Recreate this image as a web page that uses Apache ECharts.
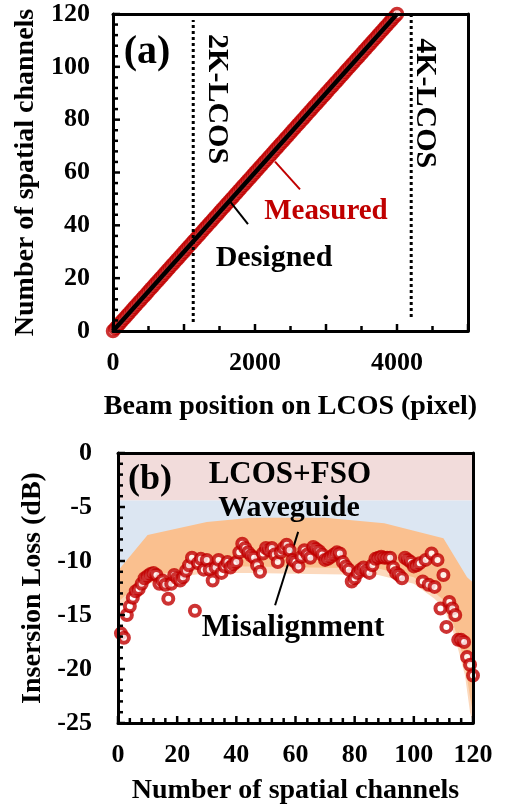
<!DOCTYPE html>
<html>
<head>
<meta charset="utf-8">
<script src="https://cdn.jsdelivr.net/npm/echarts/dist/echarts.min.js"></script>
<style>
html, body { margin: 0; padding: 0; background: #fff; }
#chart { width: 506px; height: 810px; }
</style>
</head>
<body>
<div id="chart"></div>
<script>
// ---------- panel (a): channel position on the LCOS ----------
// measured beam position (pixel) of spatial channels 0..120
const measuredBeamPos = [
  0, 33, 67, 100, 133, 167, 200, 233, 267, 300,
  333, 367, 400, 433, 467, 500, 533, 567, 600, 633,
  667, 700, 733, 767, 800, 833, 867, 900, 933, 967,
  1000, 1033, 1067, 1100, 1133, 1167, 1200, 1233, 1267, 1300,
  1333, 1367, 1400, 1433, 1467, 1500, 1533, 1567, 1600, 1633,
  1667, 1700, 1733, 1767, 1800, 1833, 1867, 1900, 1933, 1967,
  2000, 2033, 2067, 2100, 2133, 2167, 2200, 2233, 2267, 2300,
  2333, 2367, 2400, 2433, 2467, 2500, 2533, 2567, 2600, 2633,
  2667, 2700, 2733, 2767, 2800, 2833, 2867, 2900, 2933, 2967,
  3000, 3033, 3067, 3100, 3133, 3167, 3200, 3233, 3267, 3300,
  3333, 3367, 3400, 3433, 3467, 3500, 3533, 3567, 3600, 3633,
  3667, 3700, 3733, 3767, 3800, 3833, 3867, 3900, 3933, 3967,
  4000
];
const designedBeamPos = [0, 4000];
const designedChannels = [0, 120];
const lcosEdgePos = [1130, 4200];
const lcosEdgeSpan = [[3.4, 117.7], [5.3, 119.6]];
const lcosNames = ['2K-LCOS', '4K-LCOS'];
const beamTickLabels = [0, 2000, 4000];

// ---------- panel (b): insertion loss of channels 1..120 (dB) ----------
const lossDb = [
  -16.7, -17.1, -15.0, -14.2, -13.4, -12.8, -12.6, -12.1, -11.6, -11.4,
  -11.2, -11.1, -11.3, -12.1, -11.8, -12.2, -13.5, -12.1, -11.3, -11.6,
  -11.8, -11.5, -10.9, -10.4, -9.7, -14.6, -10.2, -9.8, -10.8, -9.9,
  -10.8, -11.8, -10.6, -9.9, -11.1, -10.5, -10.1, -10.6, -10.3, -10.1,
  -9.2, -8.4, -8.8, -9.2, -9.5, -9.7, -10.4, -11.0, -9.3, -8.8,
  -9.0, -8.8, -9.4, -10.1, -9.2, -8.8, -8.5, -9.0, -9.9, -10.1,
  -10.5, -9.6, -9.0, -9.4, -9.7, -8.7, -8.9, -9.1, -9.4, -9.9,
  -9.8, -9.6, -9.4, -9.2, -9.3, -10.1, -10.5, -10.8, -11.9, -11.6,
  -11.1, -10.8, -10.6, -10.9, -11.1, -10.4, -9.8, -9.7, -9.6, -9.7,
  -9.7, -9.7, -10.6, -11.1, -11.3, -11.6, -9.7, -9.9, -10.1, -10.5,
  -10.4, -10.2, -11.9, -9.9, -12.2, -9.3, -12.4, -9.9, -14.4, -11.3,
  -16.1, -13.8, -14.4, -15.0, -17.3, -17.3, -17.5, -18.9, -19.6, -20.6
];
const lcosFsoLimit = -4.4;            // loss budget of LCOS + free-space optics
const waveguideX   = [0, 10, 30, 45, 70, 90, 110, 118, 120];
const waveguideTop = [-10.9, -7.6, -6.4, -6.0, -6.0, -6.5, -7.9, -11.5, -12.0];
const misalignX    = [0, 5, 10, 20, 30, 45, 65, 88, 100, 107, 110, 113, 115, 117.3, 119, 120];
const misalignLow  = [-13.8, -12.6, -11.5, -10.9, -10.5, -10.5, -10.6, -10.7, -11.5, -12.9, -13.6, -15.5, -17.3, -19.5, -22.6, -24.0];
const misalignEdge = [-14.4, -13.2, -12.1, -11.5, -11.1, -11.1, -11.2, -11.3, -12.1, -13.5, -14.3, -16.3, -18.2, -20.6, -24.0, -25.0];

// annotation anchors (data units)
const measuredLeader = [[2282, 64.1], [2634, 53.6]];
const designedLeader = [[1634, 49.5], [1901, 40.5]];
const misalignLeader = [[60.9, -7.3], [53.1, -14.1]];

const FONT = "'Liberation Serif', 'Times New Roman', serif";
const RED = '#c00000';

const zip = (xs, ys) => xs.map((x, i) => [x, ys[i]]);
const steps = (from, to, step) => {
  const out = [];
  for (let v = from; v <= to + 1e-9; v += step) out.push(v);
  return out;
};

function baseAxis(extra) {
  return Object.assign({
    type: 'value',
    z: 10,
    splitLine: { show: false },
    axisLine: { show: true, onZero: false, lineStyle: { color: '#000', width: 3 } },
    axisTick: { show: false },
    axisLabel: { color: '#000', fontFamily: FONT, fontWeight: 'bold', fontSize: 26 },
    nameLocation: 'middle',
    nameTextStyle: { color: '#000', fontFamily: FONT, fontWeight: 'bold', fontSize: 28 }
  }, extra);
}
// plain box edges (top / right)
function frameAxis(extra) {
  return Object.assign({
    type: 'value',
    z: 10,
    splitLine: { show: false },
    axisLine: { show: true, onZero: false, lineStyle: { color: '#000', width: 3 } },
    axisTick: { show: false },
    axisLabel: { show: false }
  }, extra);
}
// inward tick marks placed through the axis scale
function tickMarks(axisIdx, dir, base, values, majorStep) {
  return {
    type: 'custom', xAxisIndex: axisIdx, yAxisIndex: axisIdx,
    silent: true, clip: false, z: 12,
    data: values.map(v => [v]),
    encode: dir === 'x' ? { x: 0 } : { y: 0 },
    renderItem: (params, api) => {
      const v = api.value(0);
      const len = Math.abs(v / majorStep - Math.round(v / majorStep)) < 1e-6 ? 7 : 5;
      const p = dir === 'x' ? api.coord([v, base]) : api.coord([base, v]);
      const shape = dir === 'x'
        ? { x1: p[0], y1: p[1], x2: p[0], y2: p[1] - len }
        : { x1: p[0], y1: p[1], x2: p[0] + len, y2: p[1] };
      return { type: 'line', shape: shape, style: { stroke: '#000', lineWidth: 2.5 } };
    }
  };
}

const chart = echarts.init(document.getElementById('chart'));

const option = {
  animation: false,
  grid: [
    { left: 113, top: 14, width: 355, height: 317 },
    { left: 118, top: 453, width: 355, height: 270 }
  ],
  xAxis: [
    baseAxis({
      gridIndex: 0, min: 0, max: 5000, interval: 1000,
      axisLabel: { color: '#000', fontFamily: FONT, fontWeight: 'bold', fontSize: 26, margin: 19,
        formatter: v => (beamTickLabels.indexOf(v) >= 0 ? String(v) : '') },
      name: 'Beam position on LCOS (pixel)', nameGap: 62
    }),
    baseAxis({
      gridIndex: 1, min: 0, max: 120, interval: 20,
      axisLabel: { color: '#000', fontFamily: FONT, fontWeight: 'bold', fontSize: 26, margin: 19 },
      name: 'Number of spatial channels', nameGap: 54
    }),
    frameAxis({ gridIndex: 0, position: 'top', min: 0, max: 5000 }),
    frameAxis({ gridIndex: 1, position: 'top', min: 0, max: 120 })
  ],
  yAxis: [
    baseAxis({
      gridIndex: 0, min: 0, max: 120, interval: 20,
      axisLabel: { color: '#000', fontFamily: FONT, fontWeight: 'bold', fontSize: 26, margin: 23 },
      name: 'Number of spatial channels', nameGap: 72
    }),
    baseAxis({
      gridIndex: 1, min: -25, max: 0, interval: 5,
      axisLabel: { color: '#000', fontFamily: FONT, fontWeight: 'bold', fontSize: 26, margin: 26 },
      name: 'Insersion Loss (dB)', nameGap: 69
    }),
    frameAxis({ gridIndex: 0, position: 'right', min: 0, max: 120 }),
    frameAxis({ gridIndex: 1, position: 'right', min: -25, max: 0 })
  ],
  series: [
    // ----- (a) -----
    {
      name: 'Measured', type: 'scatter', xAxisIndex: 0, yAxisIndex: 0,
      data: measuredBeamPos.map((p, ch) => [p, ch]),
      symbol: 'circle', symbolSize: 11, clip: false,
      itemStyle: { color: '#fff', borderColor: RED, borderWidth: 3.5 },
      z: 3
    },
    {
      name: 'Designed', type: 'line', xAxisIndex: 0, yAxisIndex: 0,
      data: zip(designedBeamPos, designedChannels),
      symbol: 'none', lineStyle: { color: '#000', width: 4.5 }, z: 4
    },
    ...lcosEdgePos.map((pos, i) => ({
      name: lcosNames[i], type: 'line', xAxisIndex: 0, yAxisIndex: 0,
      data: [[pos, lcosEdgeSpan[i][0]], [pos, lcosEdgeSpan[i][1]]],
      symbol: 'none', lineStyle: { color: '#000', width: 3, type: [3, 3] }, z: 5
    })),
    {
      type: 'line', xAxisIndex: 0, yAxisIndex: 0, data: measuredLeader,
      symbol: 'none', lineStyle: { color: RED, width: 2 }, z: 5
    },
    {
      type: 'line', xAxisIndex: 0, yAxisIndex: 0, data: designedLeader,
      symbol: 'none', lineStyle: { color: '#000', width: 2 }, z: 5
    },
    tickMarks(0, 'x', 0, steps(0, 5000, 500), 1000),
    tickMarks(0, 'y', 0, steps(0, 120, 4), 20),
    // ----- (b) -----
    {
      name: 'bands', type: 'line', xAxisIndex: 1, yAxisIndex: 1, data: [],
      markArea: {
        silent: true,
        data: [
          [{ yAxis: 0, itemStyle: { color: '#f2dcdb' } }, { yAxis: lcosFsoLimit }],
          [{ yAxis: lcosFsoLimit, itemStyle: { color: '#dce6f2' } }, { yAxis: -25 }]
        ]
      },
      z: 1
    },
    {
      name: 'Waveguide', type: 'line', xAxisIndex: 1, yAxisIndex: 1,
      data: zip(waveguideX, waveguideTop), symbol: 'none',
      lineStyle: { width: 0 }, areaStyle: { color: '#fac08f', origin: 'start', opacity: 1 }, z: 2
    },
    {
      name: 'Misalignment', type: 'line', xAxisIndex: 1, yAxisIndex: 1,
      data: zip(misalignX, misalignLow), symbol: 'none',
      lineStyle: { width: 0 }, areaStyle: { color: '#fcd9bd', origin: 'start', opacity: 1 }, z: 2
    },
    {
      type: 'line', xAxisIndex: 1, yAxisIndex: 1,
      data: zip(misalignX, misalignEdge), symbol: 'none',
      lineStyle: { width: 0 }, areaStyle: { color: '#fff', origin: 'start', opacity: 1 }, z: 2
    },
    {
      type: 'line', xAxisIndex: 1, yAxisIndex: 1, data: misalignLeader,
      symbol: 'none', lineStyle: { color: '#000', width: 2 }, z: 4
    },
    {
      name: 'Insertion loss', type: 'scatter', xAxisIndex: 1, yAxisIndex: 1,
      data: lossDb.map((v, i) => [i + 1, v]),
      symbol: 'circle', symbolSize: 10, clip: false,
      itemStyle: { color: '#fff', borderColor: RED, borderWidth: 4 },
      z: 5
    },
    tickMarks(1, 'x', -25, steps(0, 120, 4), 20),
    tickMarks(1, 'y', 0, steps(-25, 0, 1), 5)
  ]
};
chart.setOption(option);

// text annotations, anchored in data coordinates
function label(grid, pt, text, size, color, rotate) {
  const p = chart.convertToPixel({ gridIndex: grid }, pt);
  return {
    type: 'text', x: p[0], y: p[1], rotation: rotate || 0, z: 20,
    style: {
      text: text, fill: color || '#000', font: 'bold ' + size + 'px ' + FONT,
      align: 'center', verticalAlign: 'middle'
    }
  };
}
chart.setOption({
  graphic: [
    label(0, [479, 105.4], '(a)', 40),
    label(0, [1465, 87.8], lcosNames[0], 30, '#000', -Math.PI / 2),
    label(0, [4394, 86.2], lcosNames[1], 30, '#000', -Math.PI / 2),
    label(0, [3000, 45.4], 'Measured', 29, RED),
    label(0, [2268, 27.4], 'Designed', 30),
    label(1, [10.8, -2.5], '(b)', 36),
    label(1, [58.1, -2.0], 'LCOS+FSO', 31),
    label(1, [57.8, -5.1], 'Waveguide', 30),
    label(1, [59.2, -16.2], 'Misalignment', 31)
  ]
});
</script>
</body>
</html>
